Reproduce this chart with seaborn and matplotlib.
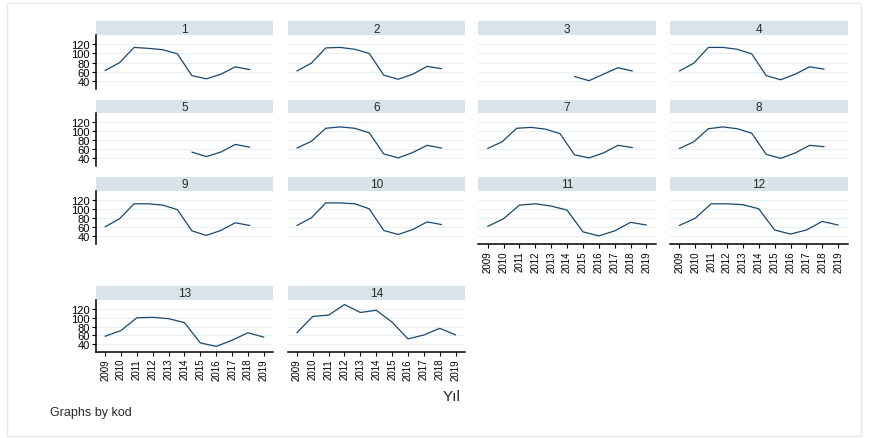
import numpy as np
import pandas as pd
import matplotlib
matplotlib.use('Agg')
import matplotlib.pyplot as plt
from matplotlib.patches import Rectangle
import seaborn as sns

# Yearly series for each kod
years = [2009, 2010, 2011, 2012, 2013, 2014, 2015, 2016, 2017, 2018, 2019]
nan = np.nan
kod1 = [63, 80, 113, 111, 108, 99, 52, 45, 55, 71, 65]
kod2 = [62, 79, 112, 113, 109, 100, 53, 44, 55, 72, 67]
kod3 = [nan, nan, nan, nan, nan, nan, 50, 41, 55, 69, 62]
kod4 = [62, 79, 113, 113, 109, 99, 52, 43, 55, 71, 66]
kod5 = [nan, nan, nan, nan, nan, nan, 54, 44, 54, 71, 65]
kod6 = [63, 78, 107, 110, 107, 97, 50, 41, 53, 69, 63]
kod7 = [62, 77, 107, 109, 105, 95, 48, 41, 52, 69, 64]
kod8 = [62, 77, 106, 110, 106, 96, 49, 40, 52, 69, 66]
kod9 = [61, 79, 112, 112, 109, 99, 52, 42, 53, 70, 64]
kod10 = [64, 81, 114, 114, 112, 101, 53, 44, 55, 72, 66]
kod11 = [62, 79, 109, 112, 107, 98, 50, 41, 52, 71, 65]
kod12 = [64, 80, 112, 112, 110, 101, 54, 45, 54, 73, 65]
kod13 = [58, 71, 100, 101, 98, 89, 43, 35, 49, 66, 56]
kod14 = [66, 103, 106, 130, 112, 117, 90, 52, 61, 76, 61]
yticks = [40, 60, 80, 100, 120]

series = [kod1, kod2, kod3, kod4, kod5, kod6, kod7, kod8,
          kod9, kod10, kod11, kod12, kod13, kod14]
frames = []
for i, vals in enumerate(series):
    frames.append(pd.DataFrame({'kod': i + 1, 'Yil': years, 'deger': vals}))
df = pd.concat(frames, ignore_index=True)

sns.set_style('white')
plt.rcParams['font.family'] = ['Liberation Sans', 'DejaVu Sans']

W, H = 869, 439
fig = plt.figure(figsize=(W / 100, H / 100), dpi=100)
fig.patch.set_facecolor('white')
fig.patches.append(Rectangle((7 / W, 1 - 437 / H), 854 / W, 433 / H,
                             transform=fig.transFigure, fill=False,
                             edgecolor='#e3ebee', linewidth=1))


def box(left, top, right, bottom):
    return [left / W, 1 - bottom / H, (right - left) / W, (bottom - top) / H]


col_x = [95.7, 287.5, 478.3, 670.0]
panel_w = 177.5
# (header top, header bottom / plot top, plot bottom)
rows = [(22.3, 35.5, 90.0), (100.7, 114.0, 167.0),
        (177.7, 191.7, 245.0), (286.7, 300.7, 352.7)]

line_color = '#1a476f'
grid_color = '#e8f0f2'
head_color = '#d9e4ea'

for i in range(14):
    k = i + 1
    r, c = divmod(i, 4)
    ht, pt, pb = rows[r]
    x0 = col_x[c]
    # header strip
    hax = fig.add_axes(box(x0, ht, x0 + panel_w, pt))
    hax.set_facecolor(head_color)
    hax.set_xticks([])
    hax.set_yticks([])
    for s in hax.spines.values():
        s.set_visible(False)
    hax.text(0.5, 0.45, str(k), ha='center', va='center', fontsize=8.5,
             transform=hax.transAxes)

    ax = fig.add_axes(box(x0, pt, x0 + panel_w, pb))
    ax.set_facecolor('white')
    for y in yticks:
        ax.axhline(y, color=grid_color, linewidth=0.8, zorder=0)
    sns.lineplot(data=df[df['kod'] == k], x='Yil', y='deger', ax=ax,
                 color=line_color, linewidth=0.9, estimator=None)
    ax.set_ylim(23, 141)
    show_x = k in (11, 12, 13, 14)
    if show_x:
        ax.set_xlim(2008.41, 2019.59)
    else:
        ax.set_xlim(2008.35, 2020.62)
    ax.set_xlabel('')
    ax.set_ylabel('')
    for s in ['top', 'right']:
        ax.spines[s].set_visible(False)

    if c == 0:
        ax.spines['left'].set_visible(True)
        ax.spines['left'].set_color('black')
        ax.spines['left'].set_linewidth(1.1)
        ax.set_yticks(yticks)
        ax.tick_params(axis='y', left=True, length=3, width=0.8,
                       labelsize=8, pad=1.2, colors='black')
    else:
        ax.spines['left'].set_visible(False)
        ax.set_yticks(yticks)
        ax.tick_params(axis='y', left=False, labelleft=False)

    if show_x:
        ax.spines['bottom'].set_visible(True)
        ax.spines['bottom'].set_color('black')
        ax.spines['bottom'].set_linewidth(1.1)
        ax.set_xticks(years)
        ax.set_xticklabels([str(y) for y in years], rotation=90)
        ax.tick_params(axis='x', bottom=True, length=3, width=0.8,
                       labelsize=7, pad=1.5, colors='black')
    else:
        ax.spines['bottom'].set_visible(False)
        ax.set_xticks([])

fig.text(452 / W, 1 - 397 / H, 'Yıl', ha='center', va='center', fontsize=11)
fig.text(50 / W, 1 - 413 / H, 'Graphs by kod', ha='left', va='center',
         fontsize=9)

fig.savefig('out.png', dpi=100)
